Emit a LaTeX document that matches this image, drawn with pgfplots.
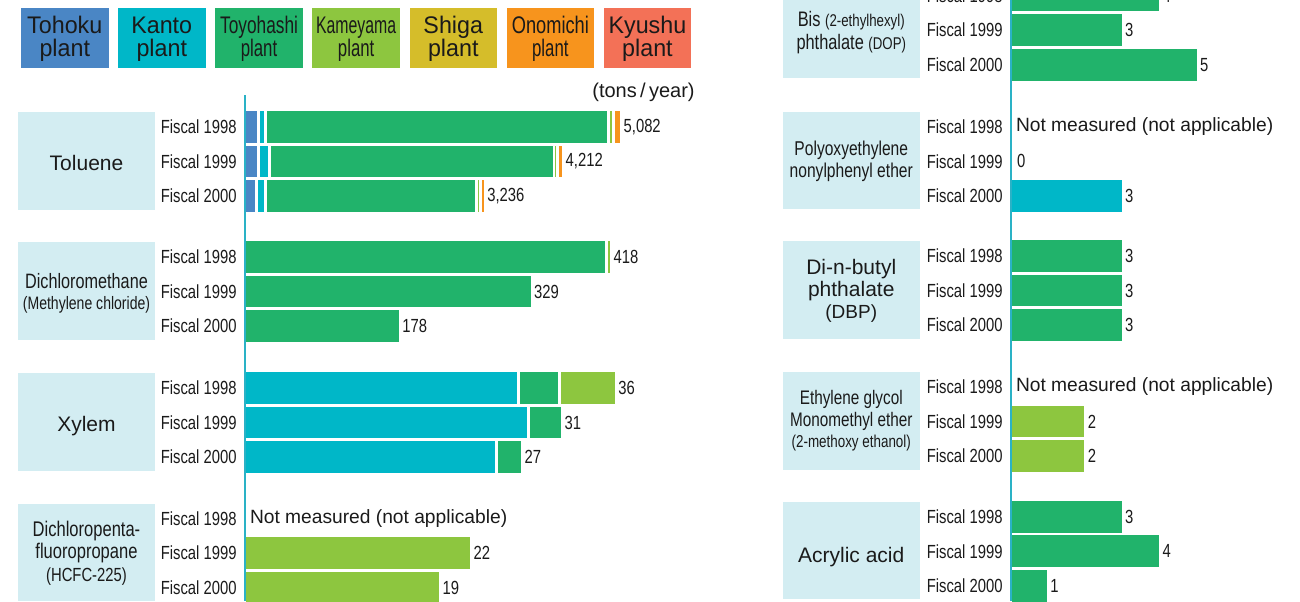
\documentclass[border=0pt]{standalone}
\usepackage{pgfplots}
\pgfplotsset{compat=1.18}
\usepackage{fontspec}
\setmainfont{Liberation Sans}
\newfontfamily\condfont{Liberation Sans}[FakeStretch=0.78]
\newfontfamily\legfont{Liberation Sans}[FakeStretch=0.97]
\newfontfamily\legtoy{Liberation Sans}[FakeStretch=0.72]
\newfontfamily\legkam{Liberation Sans}[FakeStretch=0.66]
\newfontfamily\legono{Liberation Sans}[FakeStretch=0.76]
\newfontfamily\legpl{Liberation Sans}[FakeStretch=0.70]
\newcommand\fs[1]{\fontsize{#1}{#1}\selectfont}
\newcommand\NM{\hspace*{1.5pt}{\normalfont\fs{9.6}Not measured (not applicable)}}
\definecolor{ctoh}{HTML}{4A86C5}
\definecolor{ckan}{HTML}{00B7C8}
\definecolor{ctoy}{HTML}{21B36B}
\definecolor{ckam}{HTML}{8DC63F}
\definecolor{cshi}{HTML}{D5BD2A}
\definecolor{cono}{HTML}{F7941D}
\definecolor{ckyu}{HTML}{F37157}
\definecolor{cbox}{HTML}{D3EDF2}
\definecolor{caxis}{HTML}{2AB2C6}
\definecolor{txt}{HTML}{1A1A1A}
\pgfplotsset{
  base/.style={scale only axis, anchor=north west,
    width=227.5pt, height=51.9pt,
    xmin=0, ymin=-0.5, ymax=2.5, y dir=reverse, clip=false},
  grp/.style={base,
    xbar stacked,
    bar width=17.3pt,
    axis line style={draw=none}, xtick=\empty, ytick={0,1,2},
    yticklabels={Fiscal 1998,Fiscal 1999,Fiscal 2000},
    ytick style={draw=none}, major tick length=0pt,
    yticklabel style={font=\condfont\fs{9.5}, inner sep=0pt, anchor=east, xshift=-4pt, text=txt},
  },
  rgrp/.style={grp, width=140pt, xmax=7.487},
  ovl/.style={base, hide axis},
  rovl/.style={ovl, width=140pt, xmax=7.487},
  seg/.style={draw=white, line width=1.4pt},
  lab/.style={only marks, color=white, mark=*, mark size=0pt, mark options={line width=0pt, draw=white, fill=white},
    nodes near coords, point meta=explicit symbolic,
    nodes near coords align={horizontal},
    every node near coord/.append style={font=\condfont\fs{9.5}, anchor=west, inner sep=1pt, text=txt}},
}
\begin{document}
\begin{tikzpicture}
\useasboundingbox (0pt,0pt) rectangle (650pt,-300.5pt);
\clip (0pt,0pt) rectangle (650pt,-300.5pt);
\begin{scope}[x=0.5pt,y=-0.5pt]
% legend boxes
\fill[ctoh] (21,7.5) rectangle +(87.5,60);
\fill[ckan] (118,7.5) rectangle +(87.5,60);
\fill[ctoy] (215.3,7.5) rectangle +(87.5,60);
\fill[ckam] (312.4,7.5) rectangle +(87.5,60);
\fill[cshi] (409.5,7.5) rectangle +(87.5,60);
\fill[cono] (506.6,7.5) rectangle +(87.5,60);
\fill[ckyu] (603.7,7.5) rectangle +(87.5,60);
\foreach \x/\t in {64.75/Tohoku,161.75/Kanto,453.25/Shiga,647.45/Kyushu}{
  \node[anchor=base, font=\legfont\fs{12}, inner sep=0pt, text=txt] at (\x,33.3) {\t};
  \node[anchor=base, font=\legfont\fs{12}, inner sep=0pt, text=txt] at (\x,56.7) {plant};
}
\node[anchor=base, font=\legtoy\fs{12}, inner sep=0pt, text=txt] at (259.05,33.3) {Toyohashi};
\node[anchor=base, font=\legkam\fs{12}, inner sep=0pt, text=txt] at (356.15,33.3) {Kameyama};
\node[anchor=base, font=\legono\fs{12}, inner sep=0pt, text=txt] at (550.35,33.3) {Onomichi};
\foreach \x in {259.05,356.15,550.35}{
  \node[anchor=base, font=\legpl\fs{12}, inner sep=0pt, text=txt] at (\x,56.7) {plant};
}
\node[anchor=base east, font=\fs{10}, inner sep=0pt, text=txt] at (695,97.5) {(tons\,/\,year)};
% label boxes
\foreach \t in {112.1,242.1,373.1,503.5}{\fill[cbox] (18,\t) rectangle (155,\t+97.5);}
\foreach \t in {-19.3,111.9,241.1,372.1,501.9}{\fill[cbox] (783,\t) rectangle (919.5,\t+97.5);}
% left group labels
\node[anchor=base, font=\fs{10.5}, inner sep=0pt, text=txt] at (86.5,170.5) {Toluene};
\node[anchor=base, font=\condfont\fs{10.4}, inner sep=0pt, text=txt] at (86.5,288.5) {Dichloromethane};
\node[anchor=base, font=\condfont\fs{9}, inner sep=0pt, text=txt] at (86.5,309) {(Methylene chloride)};
\node[anchor=base, font=\fs{10.5}, inner sep=0pt, text=txt] at (86.5,431.5) {Xylem};
\node[anchor=base, font=\condfont\fs{10.6}, inner sep=0pt, text=txt] at (86.5,536.5) {Dichloropenta-};
\node[anchor=base, font=\condfont\fs{10.6}, inner sep=0pt, text=txt] at (86.5,558.5) {fluoropropane};
\node[anchor=base, font=\condfont\fs{9.5}, inner sep=0pt, text=txt] at (86.5,581) {(HCFC-225)};
% right group labels
\node[anchor=base, font=\condfont\fs{10.5}, inner sep=0pt, text=txt] at (851.25,26.5) {Bis {\fs{8.5}(2-ethylhexyl)}};
\node[anchor=base, font=\condfont\fs{10.5}, inner sep=0pt, text=txt] at (851.25,49) {phthalate {\fs{8.5}(DOP)}};
\node[anchor=base, font=\condfont\fs{10}, inner sep=0pt, text=txt] at (851.25,155.5) {Polyoxyethylene};
\node[anchor=base, font=\condfont\fs{10}, inner sep=0pt, text=txt] at (851.25,177) {nonylphenyl ether};
\node[anchor=base, font=\fs{10.5}, inner sep=0pt, text=txt] at (851.25,274) {Di-n-butyl};
\node[anchor=base, font=\fs{10.5}, inner sep=0pt, text=txt] at (851.25,296) {phthalate};
\node[anchor=base, font=\fs{9.5}, inner sep=0pt, text=txt] at (851.25,318.5) {(DBP)};
\node[anchor=base, font=\condfont\fs{9.8}, inner sep=0pt, text=txt] at (851.25,404) {Ethylene glycol};
\node[anchor=base, font=\condfont\fs{9.8}, inner sep=0pt, text=txt] at (851.25,426) {Monomethyl ether};
\node[anchor=base, font=\condfont\fs{8.6}, inner sep=0pt, text=txt] at (851.25,447) {(2-methoxy ethanol)};
\node[anchor=base, font=\fs{10.5}, inner sep=0pt, text=txt] at (851.25,562) {Acrylic acid};
\end{scope}

% ---------- left panel ----------
% Toluene
\begin{axis}[grp, at={(122.5pt,-54.8pt)}, xmax=6132]
\addplot[seg, fill=ctoh] coordinates {(182,0) (186,1) (158,2)};
\addplot[seg, fill=ckan] coordinates {(94,0) (140,1) (119,2)};
\addplot[seg, fill=ctoy] coordinates {(4620,0) (3837,1) (2841,2)};
\addplot[seg, fill=ckam] coordinates {(74,0) (51,1) (61,2)};
\addplot[seg, fill=cono] coordinates {(106,0) (81,1) (59,2)};
\end{axis}
\begin{axis}[ovl, at={(122.5pt,-54.8pt)}, xmax=6132]
\addplot[lab] coordinates {(5076,0) [{5,082}] (4295,1) [{4,212}] (3238,2) [{3,236}]};
\end{axis}
% Dichloromethane
\begin{axis}[grp, at={(122.5pt,-119.8pt)}, xmax=521.2]
\addplot[seg, fill=ctoy] coordinates {(414.5,0) (329,1) (178,2)};
\addplot[seg, fill=ckam] coordinates {(5.5,0) (0,1) (0,2)};
\end{axis}
\begin{axis}[ovl, at={(122.5pt,-119.8pt)}, xmax=521.2]
\addplot[lab] coordinates {(420,0) [418] (329,1) [329] (178,2) [178]};
\end{axis}
% Xylem
\begin{axis}[grp, at={(122.5pt,-185.3pt)}, xmax=44.17]
\addplot[seg, fill=ckan] coordinates {(26.55,0) (27.5,1) (24.39,2)};
\addplot[seg, fill=ctoy] coordinates {(4.01,0) (3.34,1) (2.56,2)};
\addplot[seg, fill=ckam] coordinates {(5.48,0) (0,1) (0,2)};
\end{axis}
\begin{axis}[ovl, at={(122.5pt,-185.3pt)}, xmax=44.17]
\addplot[lab] coordinates {(36.04,0) [36] (30.84,1) [31] (26.95,2) [27]};
\end{axis}
% HCFC-225
\begin{axis}[grp, at={(122.5pt,-250.5pt)}, xmax=44.17]
\addplot[seg, fill=ckam] coordinates {(0,0) (22,1) (19,2)};
\end{axis}
\begin{axis}[ovl, at={(122.5pt,-250.5pt)}, xmax=44.17]
\addplot[lab] coordinates {(0,0) [\NM] (22,1) [22] (19,2) [19]};
\end{axis}

% ---------- right panel ----------
\begin{axis}[rgrp, at={(505.5pt,10.9pt)}]
\addplot[seg, fill=ctoy] coordinates {(4,0) (3,1) (5,2)};
\end{axis}
\begin{axis}[rovl, at={(505.5pt,10.9pt)}]
\addplot[lab] coordinates {(4,0) [4] (3,1) [3] (5,2) [5]};
\end{axis}

\begin{axis}[rgrp, at={(505.5pt,-54.7pt)}]
\addplot[seg, fill=ckan] coordinates {(0,0) (0,1) (3,2)};
\end{axis}
\begin{axis}[rovl, at={(505.5pt,-54.7pt)}]
\addplot[lab] coordinates {(0,0) [\NM] (0,1) [\hspace*{2pt}0] (3,2) [3]};
\end{axis}

\begin{axis}[rgrp, at={(505.5pt,-119.3pt)}]
\addplot[seg, fill=ctoy] coordinates {(3,0) (3,1) (3,2)};
\end{axis}
\begin{axis}[rovl, at={(505.5pt,-119.3pt)}]
\addplot[lab] coordinates {(3,0) [3] (3,1) [3] (3,2) [3]};
\end{axis}

\begin{axis}[rgrp, at={(505.5pt,-184.8pt)}]
\addplot[seg, fill=ckam] coordinates {(0,0) (2,1) (2,2)};
\end{axis}
\begin{axis}[rovl, at={(505.5pt,-184.8pt)}]
\addplot[lab] coordinates {(0,0) [\NM] (2,1) [2] (2,2) [2]};
\end{axis}

\begin{axis}[rgrp, at={(505.5pt,-249.7pt)}]
\addplot[seg, fill=ctoy] coordinates {(3,0) (4,1) (1,2)};
\end{axis}
\begin{axis}[rovl, at={(505.5pt,-249.7pt)}]
\addplot[lab] coordinates {(3,0) [3] (4,1) [4] (1,2) [1]};
\end{axis}

% axis lines
\draw[caxis, line width=1pt] (122.5pt,-47.5pt) -- (122.5pt,-300.5pt);
\draw[caxis, line width=1pt] (505.5pt,0pt) -- (505.5pt,-300.5pt);
\end{tikzpicture}
\end{document}
